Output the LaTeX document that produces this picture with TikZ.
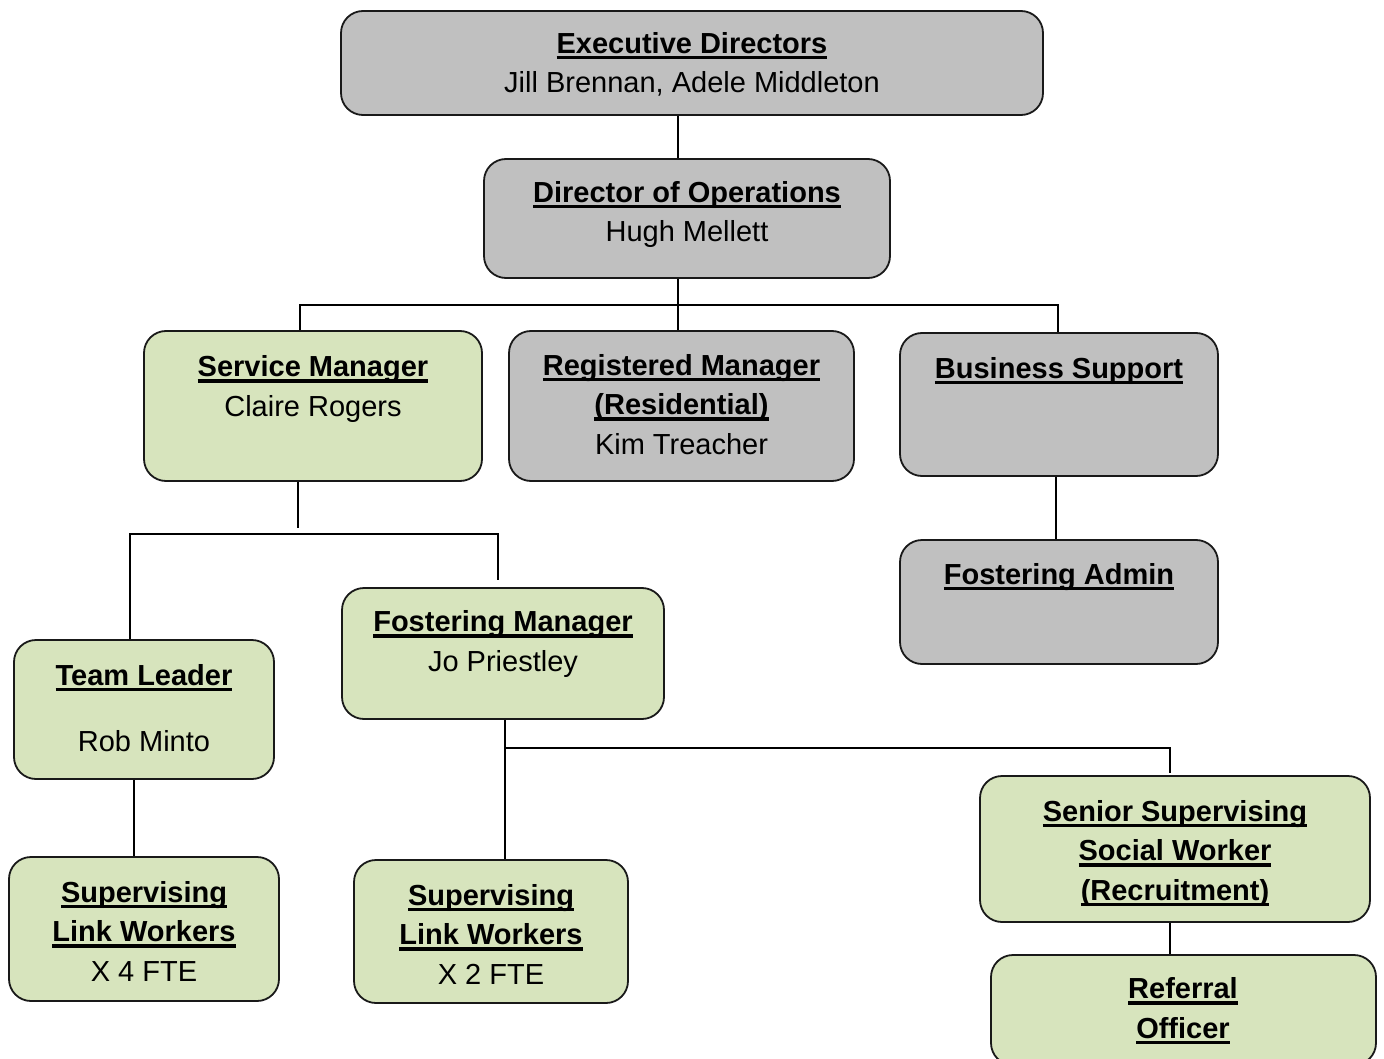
\documentclass[tikz,border=0pt]{standalone}
\usepackage{fontspec}
\setmainfont{Liberation Sans}
\usetikzlibrary{positioning}

\definecolor{boxgray}{HTML}{C0C0C0}
\definecolor{boxgreen}{HTML}{D7E4BD}
\newsavebox{\ttlbox}
\newcommand{\ttl}[1]{\sbox{\ttlbox}{\bfseries #1}\rlap{\usebox{\ttlbox}}\rule[-6pt]{\wd\ttlbox}{3.2pt}}

\tikzset{
  box/.style={draw=black!90, line width=1.8pt, rounded corners=22pt, inner sep=0pt},
  graybox/.style={box, fill=boxgray},
  greenbox/.style={box, fill=boxgreen},
  txt/.style={anchor=base, align=center, inner sep=0pt},
  link/.style={line width=1.8pt}
}

\begin{document}
\begin{tikzpicture}[x=1pt, y=1pt, font=\fontsize{29}{39.5}\selectfont]
  \useasboundingbox (0,0) rectangle (1384,-1059);

  % exec
  \node [graybox, minimum width=702pt, minimum height=104pt] (exec) at (692,-63) {};
  \node [txt] (execT) at (692,-93)
  {\ttl{Executive Directors}\\Jill Brennan, Adele Middleton};

  % director of operations
  \node [graybox, minimum width=406pt, minimum height=119pt] (dirops) at (687,-218.5) {};
  \node [txt] (diropsT) at (687,-242)
  {\ttl{Director of Operations}\\Hugh Mellett};

  % second row
  \node [greenbox, minimum width=338pt, minimum height=150pt] (servmgr) at (313,-406) {};
  \node [txt] (servmgrT) at (313,-416)
  {\ttl{Service Manager}\\Claire Rogers};

  \node [graybox, minimum width=345pt, minimum height=150pt] (regmgr) at (681.5,-406) {};
  \node [txt] (regmgrT) at (681.5,-454)
  {\ttl{Registered Manager}\\\ttl{(Residential)}\\Kim Treacher};

  \node [graybox, minimum width=318pt, minimum height=143pt] (bussup) at (1059,-404.5) {};
  \node [txt] (bussupT) at (1059,-378) {\ttl{Business Support}};

  \node [graybox, minimum width=318pt, minimum height=124pt] (fosadmin) at (1059,-602) {};
  \node [txt] (fosadminT) at (1059,-584) {\ttl{Fostering Admin}};

  % third row
  \node [greenbox, minimum width=260pt, minimum height=139pt] (teamlead) at (144,-709.5) {};
  \node [txt] (teamleadT) at (144,-751)
  {\ttl{Team Leader}\\[26.5pt]Rob Minto};

  \node [greenbox, minimum width=322pt, minimum height=131pt] (fosmgr) at (503,-653.5) {};
  \node [txt] (fosmgrT) at (503,-671)
  {\ttl{Fostering Manager}\\Jo Priestley};

  % bottom row
  \node [greenbox, minimum width=270pt, minimum height=144pt] (slwA) at (144,-929) {};
  \node [txt] (slwAT) at (144,-981)
  {\ttl{Supervising}\\\ttl{Link Workers}\\X 4 FTE};

  \node [greenbox, minimum width=274pt, minimum height=143pt] (slwB) at (491,-931.5) {};
  \node [txt] (slwBT) at (491,-984)
  {\ttl{Supervising}\\\ttl{Link Workers}\\X 2 FTE};

  \node [greenbox, minimum width=390pt, minimum height=146pt] (senior) at (1175,-849) {};
  \node [txt] (seniorT) at (1175,-900)
  {\ttl{Senior Supervising}\\\ttl{Social Worker}\\\ttl{(Recruitment)}};

  \node [greenbox, minimum width=385pt, minimum height=110pt] (referral) at (1183.5,-1010) {};
  \node [txt] (referralT) at (1183,-1038)
  {\ttl{Referral}\\\ttl{Officer}};

  % junctions
  \coordinate (top) at (678,-305);
  \coordinate (barL) at (300,-305);
  \coordinate (barR) at (1058,-305);
  \coordinate (smdrop) at (298,-528);
  \coordinate (subL) at (130,-534);
  \coordinate (subR) at (498,-534);
  \coordinate (fmstub) at (498,-580);
  \coordinate (tl) at (134,-800);
  \coordinate (fm) at (505,-748);
  \coordinate (snr) at (1170,-748);
  \coordinate (snrstub) at (1170,-773);
  \coordinate (bs) at (1056,-500);

  % connectors
  \draw [link] (exec.south -| top) -- (dirops.north -| top);
  \draw [link] (dirops.south -| top) -- (regmgr.north -| top);
  \draw [link] (servmgr.north -| barL) -- (barL) -- (barR) -- (bussup.north -| barR);
  \draw [link] (bussup.south -| bs) -- (fosadmin.north -| bs);

  \draw [link] (servmgr.south -| smdrop) -- (smdrop);
  \draw [link] (teamlead.north -| subL) -- (subL) -- (subR) -- (fmstub);
  \draw [link] (teamlead.south -| tl) -- (slwA.north -| tl);

  \draw [link] (fosmgr.south -| fm) -- (slwB.north -| fm);
  \draw [link] (fm) -- (snr) -- (snrstub);
  \draw [link] (senior.south -| snr) -- (referral.north -| snr);
\end{tikzpicture}
\end{document}
